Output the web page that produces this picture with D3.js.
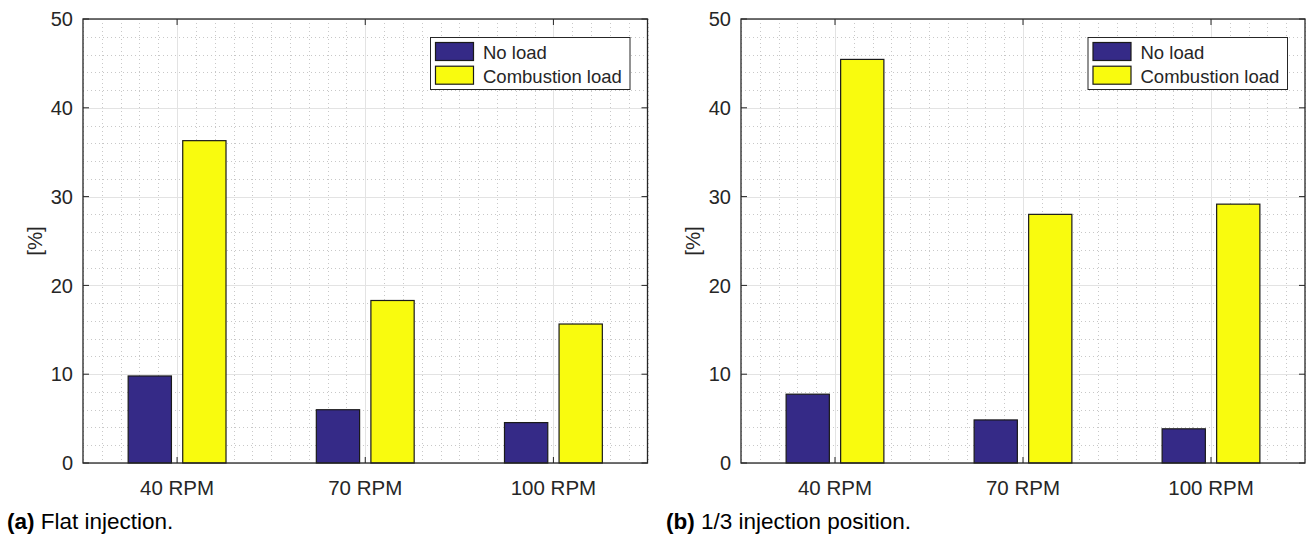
<!DOCTYPE html>
<html>
<head>
<meta charset="utf-8">
<script src="https://cdn.jsdelivr.net/npm/d3@7"></script>
<style>
  body { margin: 0; background: #fff; }
  svg text { font-family: "Liberation Sans", Arial, Helvetica, sans-serif; fill: #262626; }
</style>
</head>
<body>
<svg id="fig" width="1308" height="538"></svg>
<script>
// data
const categories = ["40 RPM", "70 RPM", "100 RPM"]
const seriesNames = ["No load", "Combustion load"]
const seriesColors = ["#352a87", "#f9fb0e"]
const flatNoLoad = [9.8, 6.0, 4.55]
const flatCombustion = [36.3, 18.3, 15.65]
const thirdNoLoad = [7.75, 4.85, 3.85]
const thirdCombustion = [45.45, 28.0, 29.15]
const yTicks = [0, 10, 20, 30, 40, 50]
const yMinor = d3.range(0, 50.001, 2)
const xMinor = d3.range(0.5, 3.5001, 0.1)

const panels = [
  { left: 83, right: 647.5, caption: "(a)", text: " Flat injection.", capX: 7, values: [flatNoLoad, flatCombustion] },
  { left: 741, right: 1305, caption: "(b)", text: " 1/3 injection position.", capX: 666, values: [thirdNoLoad, thirdCombustion] }
]
const axTop = 19, axBottom = 463

var svg = d3.select("#fig")

function drawPanel(p)
{
  var g = svg.append("g")
  var x = d3.scaleLinear().domain([0.5, 3.5]).range([p.left, p.right])
  var y = d3.scaleLinear().domain([0, 50]).range([axBottom, axTop])

  // minor grid (dotted)
  g.selectAll(".mx").data(xMinor.filter(d => Math.abs(d - Math.round(d)) > 0.01)).enter()
    .append("line").attr("x1", d => Math.round(x(d)) + 0.5).attr("x2", d => Math.round(x(d)) + 0.5)
    .attr("y1", axTop).attr("y2", axBottom)
    .attr("stroke", "#c8c8c8").attr("stroke-dasharray", "1,3")
  g.selectAll(".my").data(yMinor.filter(d => d % 10 !== 0)).enter()
    .append("line").attr("y1", d => Math.round(y(d)) + 0.5).attr("y2", d => Math.round(y(d)) + 0.5)
    .attr("x1", p.left).attr("x2", p.right)
    .attr("stroke", "#c8c8c8").attr("stroke-dasharray", "1,3")

  // major grid
  g.selectAll(".gx").data([1, 2, 3]).enter()
    .append("line").attr("x1", d => Math.round(x(d)) + 0.5).attr("x2", d => Math.round(x(d)) + 0.5)
    .attr("y1", axTop).attr("y2", axBottom).attr("stroke", "#e3e3e3")
  g.selectAll(".gy").data(yTicks).enter()
    .append("line").attr("y1", d => Math.round(y(d)) + 0.5).attr("y2", d => Math.round(y(d)) + 0.5)
    .attr("x1", p.left).attr("x2", p.right).attr("stroke", "#e3e3e3")

  // bars
  var offs = [[-0.26, -0.03], [0.03, 0.26]]
  p.values.forEach(function(vals, s) {
    g.selectAll(".b" + s).data(vals).enter().append("rect")
      .attr("x", (d, i) => x(i + 1 + offs[s][0]))
      .attr("width", (d, i) => x(i + 1 + offs[s][1]) - x(i + 1 + offs[s][0]))
      .attr("y", d => y(d))
      .attr("height", d => y(0) - y(d))
      .attr("fill", seriesColors[s])
      .attr("stroke", "#1a1a1a").attr("stroke-width", 1.2)
  })

  // axes box
  g.append("rect").attr("x", p.left).attr("y", axTop)
    .attr("width", p.right - p.left).attr("height", axBottom - axTop)
    .attr("fill", "none").attr("stroke", "#262626").attr("stroke-width", 1.3)

  // ticks
  yTicks.forEach(function(t) {
    g.append("line").attr("x1", p.left).attr("x2", p.left + 6).attr("y1", y(t)).attr("y2", y(t)).attr("stroke", "#262626")
    g.append("line").attr("x1", p.right).attr("x2", p.right - 6).attr("y1", y(t)).attr("y2", y(t)).attr("stroke", "#262626")
    g.append("text").attr("x", p.left - 10).attr("y", y(t)).attr("dy", "0.36em")
      .attr("text-anchor", "end").attr("font-size", 20).text(t)
  })
  categories.forEach(function(c, i) {
    g.append("line").attr("x1", x(i + 1)).attr("x2", x(i + 1)).attr("y1", axBottom).attr("y2", axBottom - 6).attr("stroke", "#262626")
    g.append("line").attr("x1", x(i + 1)).attr("x2", x(i + 1)).attr("y1", axTop).attr("y2", axTop + 6).attr("stroke", "#262626")
    g.append("text").attr("x", x(i + 1)).attr("y", 495)
      .attr("text-anchor", "middle").attr("font-size", 20.5).text(c)
  })

  // y label
  g.append("text").attr("transform", "translate(" + (p.left - 41) + "," + ((axTop + axBottom) / 2) + ") rotate(-90)")
    .attr("text-anchor", "middle").attr("font-size", 20.5).text("[%]")

  // legend
  var lx = p.right - 217, ly = 37.5
  var leg = g.append("g")
  leg.append("rect").attr("x", lx).attr("y", ly).attr("width", 199.5).attr("height", 52)
    .attr("fill", "#fff").attr("stroke", "#262626").attr("stroke-width", 1)
  seriesNames.forEach(function(n, s) {
    leg.append("rect").attr("x", lx + 5).attr("y", ly + 5 + s * 23.7).attr("width", 38).attr("height", 18)
      .attr("fill", seriesColors[s]).attr("stroke", "#1a1a1a").attr("stroke-width", 1.2)
    leg.append("text").attr("x", lx + 52.5).attr("y", ly + 15 + s * 23.7).attr("dy", "0.36em")
      .attr("font-size", 18.5).text(n)
  })

  // caption
  var cap = svg.append("text").attr("x", p.capX).attr("y", 529).attr("font-size", 22.5).style("fill", "#000")
  cap.append("tspan").attr("font-weight", "bold").text(p.caption)
  cap.append("tspan").text(p.text)
}

panels.forEach(drawPanel)
</script>
</body>
</html>
